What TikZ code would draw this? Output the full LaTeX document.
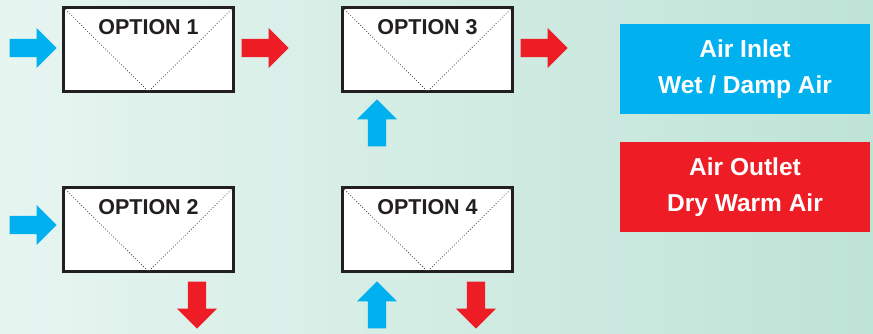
\documentclass[tikz,border=0pt]{standalone}
\usepackage{fontspec}
\setmainfont{Liberation Sans}
\usetikzlibrary{shapes.arrows}
\definecolor{inblue}{HTML}{00B0EF}
\definecolor{outred}{HTML}{EE1C25}
\definecolor{boxline}{HTML}{231F20}
\definecolor{bgleft}{HTML}{E7F5F1}
\definecolor{bgright}{HTML}{BEE3D7}
\begin{document}
\begin{tikzpicture}[x=1pt, y=-1pt,
        option/.style={rectangle, draw=boxline, line width=3pt, fill=white, inner sep=0pt, minimum width=170pt, text height=27pt, text depth=57pt, text=boxline, font=\fontsize{21.5}{24}\selectfont\bfseries},
        fold/.style={draw=boxline!85, dotted, line width=0.8pt},
        flow/.style={single arrow, draw=none, inner sep=9pt, minimum height=47pt, single arrow head extend=11pt, single arrow tip angle=90, single arrow head indent=0pt},
        inlet/.style={flow, fill=inblue},
        outlet/.style={flow, fill=outred},
        legend/.style={rectangle, minimum width=250pt, minimum height=90pt, text=white, align=center, font=\fontsize{24.5}{36}\selectfont\bfseries}]

    \fill [left color=bgleft, right color=bgright] (0,0) rectangle (873,334);
    \useasboundingbox (0,0) rectangle (873,334);

    \node [option] (opt1) at (148.5,49.5) {OPTION 1};
    \node [option] (opt3) at (427.5,49.5) {OPTION 3};
    \node [option] (opt2) at (148.5,229.5) {OPTION 2};
    \node [option] (opt4) at (427.5,229.5) {OPTION 4};

    \foreach \b in {opt1,opt2,opt3,opt4}
        \draw [fold] ([shift={(1.5pt,-1.5pt)}]\b.north west) -- ([yshift=1.5pt]\b.south) -- ([shift={(-1.5pt,-1.5pt)}]\b.north east);

    \node [inlet, anchor=tip] (in1) at (57,48) {};
    \node [outlet, anchor=tip] (out1) at (289,48) {};
    \node [inlet, shape border rotate=90, anchor=tip] (in3) at (377,99) {};
    \node [outlet, anchor=tip] (out3) at (568,48) {};
    \node [inlet, anchor=tip] (in2) at (57,225) {};
    \node [outlet, shape border rotate=270, anchor=tip] (out2) at (197,329) {};
    \node [inlet, shape border rotate=90, anchor=tip] (in4) at (377,281) {};
    \node [outlet, shape border rotate=270, anchor=tip] (out4) at (476,329) {};

    \node [legend, fill=inblue] (inkey) at (745,69) {Air Inlet\\Wet / Damp Air};
    \node [legend, fill=outred] (outkey) at (745,187) {Air Outlet\\Dry Warm Air};
\end{tikzpicture}
\end{document}
